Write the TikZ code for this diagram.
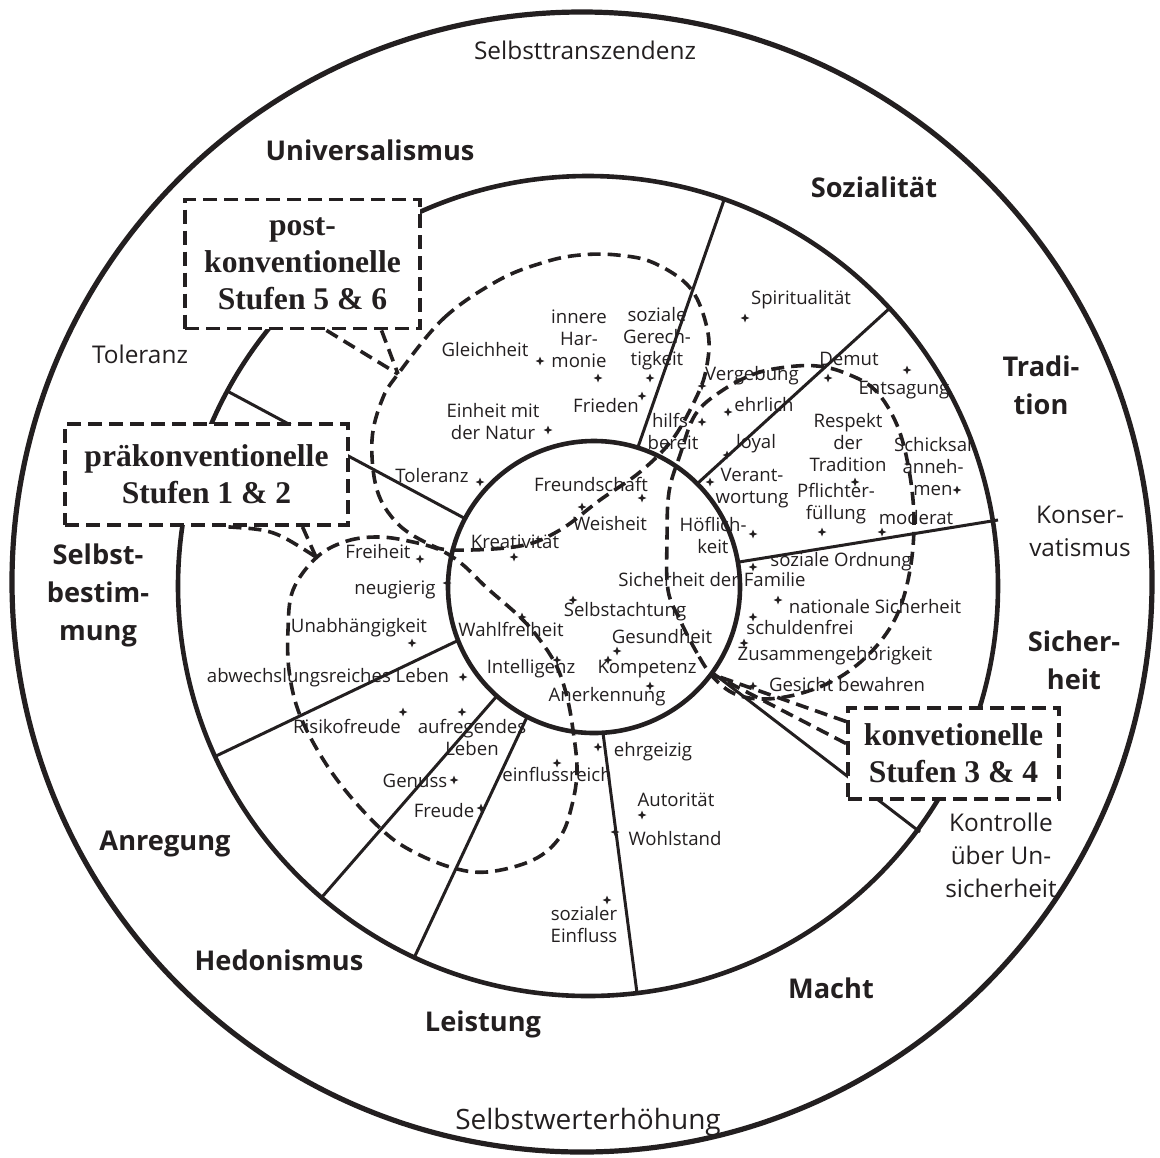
\documentclass[tikz,border=0pt]{standalone}
\usepackage{fontspec}
\setmainfont{Open Sans}
\newfontfamily\stagefont{Liberation Serif}
\usepackage{tikz}
\usetikzlibrary{calc, shapes.geometric}
\definecolor{ink}{RGB}{35, 31, 32}

\begin{document}
\begin{tikzpicture}[
    x = 0.5pt, y = -0.5pt,
    ring/.style = {draw = ink, line width = 2.3pt},
    spoke/.style = {draw = ink, line width = 1.5pt},
    zone/.style = {draw = ink, line width = 1.8pt, dash pattern = on 6.5pt off 3.5pt},
    lead/.style = {draw = ink, line width = 1.8pt, dash pattern = on 6.5pt off 3.5pt},
    stage/.style = {draw = ink, fill = white, line width = 1.9pt, dash pattern = on 7pt off 3.5pt, align = center, inner sep = 0pt, text = ink, font = \stagefont\bfseries\fontsize{15.8}{18.5}\selectfont},
    val/.style = {text = ink, align = center, inner sep = 0pt, font = \fontsize{9.3}{11}\selectfont},
    cat/.style = {text = ink, align = center, inner sep = 0pt, font = \bfseries\fontsize{13.6}{19}\selectfont},
    rimtext/.style = {text = ink, align = center, inner sep = 0pt, font = \fontsize{12.2}{16.5}\selectfont},
    stern/.style = {star, star points = 4, star point ratio = 2.6, minimum size = 4.5pt, inner sep = 0pt, fill = ink}
]
\useasboundingbox (0,0) rectangle (1160,1157);

% circles
\coordinate (rim) at (582,582);
\coordinate (mid) at (588,586);
\coordinate (core) at (594,587);
\draw[ring, line width = 2.6pt] (rim) circle [radius = 285pt];
\draw[ring] (mid) circle [radius = 205pt];
\draw[ring] (core) circle [radius = 73pt];

% spokes between the two inner circles
\foreach \xa/\ya/\xb/\yb in {638/447/724/200, 698/483/891/307, 739/562/998/520, 713/673/920/832,
    603/733/637/993, 527/717/414/958, 496/697/322/897, 459/640/216/756, 464/518/229/392}
    \draw[spoke] (\xa,\ya) -- (\xb,\yb);

% stage regions
\draw[zone] plot[smooth cycle, tension = 0.6] coordinates {(398,374) (444,318) (499,280) (545,262) (580,255) (617,255) (654,263) (691,289) (708,333) (706,370) (695,400) (672,440) (640,472) (600,500) (560,530) (520,546) (453,550) (427,543) (397,523) (377,490) (372,440) (382,400)};
\draw[zone] plot[smooth cycle, tension = 0.6] coordinates {(713,677) (697,653) (680,620) (668,590) (667,540) (669,492) (680,455) (695,415) (720,392) (754,374) (787,367) (817,366) (845,373) (875,390) (897,425) (909,470) (914,520) (910,570) (897,615) (873,650) (840,677) (802,693) (765,699) (735,694)};
\draw[zone] plot[smooth cycle, tension = 0.6] coordinates {(317,557) (347,541) (380,537) (413,542) (440,550) (462,564) (487,588) (520,617) (540,640) (557,667) (567,697) (573,730) (577,770) (572,805) (560,837) (533,860) (487,872) (450,867) (410,850) (381,829) (345,790) (318,751) (298,710) (289,670) (288,630) (293,590)};

% outer ring texts
\node[rimtext] (trans) at (585,50) {Selbsttranszendenz};
\node[rimtext, font = \fontsize{14}{17}\selectfont] (erh) at (588,1122) {Selbstwerterhöhung};
\node[rimtext] (tol) at (140,354) {Toleranz};
\node[rimtext] (kons) at (1080,531) {Konser-\\vatismus};
\node[rimtext] (kontr) at (1001,855) {Kontrolle\\über Un-\\sicherheit};

% value types
\node[cat] (univ) at (370,150) {Universalismus};
\node[cat] (soz) at (874,187) {Sozialität};
\node[cat] (trad) at (1041,385) {Tradi-\\tion};
\node[cat] (sich) at (1074,660) {Sicher-\\heit};
\node[cat] (macht) at (831,988) {Macht};
\node[cat] (leist) at (483,1024) {Leistung};
\node[cat] (hedo) at (279,960) {Hedonismus};
\node[cat] (anr) at (165,844) {Anregung};
\node[cat] (selbst) at (98,595) {Selbst-\\bestim-\\mung};

% single values
\foreach \x/\y/\t [count=\i] in {485/350/Gleichheit, 579/339/{innere\\Har-\\monie}, 657/339/{soziale\\Gerech-\\tigkeit},
    606/406/Frieden, 493/422/{Einheit mit\\der Natur}, 432/476/Toleranz, 801/300/Spiritualität,
    752/376/Vergebung, 673/431/{hilfs-\\bereit}, 764/405/ehrlich, 756/444/loyal, 752/488/{Verant-\\wortung},
    849/359/Demut, 904/390/Entsagung, 848/443/{Respekt\\der\\Tradition}, 933/467/{Schicksal\\anneh-\\men},
    836/504/{Pflichter-\\füllung}, 916/518/moderat, 591/484/Freundschaft, 610/524/Weisheit,
    713/535/{Höflich-\\keit}, 515/542/Kreativität, 712/580/Sicherheit der Familie, 841/562/soziale Ordnung,
    625/612/Selbstachtung, 875/607/nationale Sicherheit, 511/629/Wahlfreiheit, 800/627/schuldenfrei,
    662/637/Gesundheit, 835/656/Zusammengehörigkeit, 531/669/Intelligenz, 647/669/Kompetenz,
    847/685/Gesicht bewahren, 607/697/Anerkennung, 378/552/Freiheit, 395/590/neugierig,
    359/628/Unabhängigkeit, 328/678/abwechslungsreiches Leben, 347/726/Risikofreude,
    472/737/{aufregendes\\Leben}, 415/781/Genuss, 444/811/Freude, 557/774/einflussreich,
    653/752/ehrgeizig, 676/800/Autorität, 675/839/Wohlstand, 584/925/{sozialer\\Einfluss}}
    \node[val] (v\i) at (\x,\y) {\t};

\foreach \x/\y [count=\i] in {540/361, 598/378, 650/378, 642/396, 548/430, 480/482, 745/318, 702/386,
    702/422, 728/412, 727/455, 710/482, 828/378, 907/370, 855/482, 957/490, 822/532, 882/532,
    642/498, 582/507, 753/534, 514/557, 573/600, 753/567, 778/600, 753/617, 744/643, 753/686,
    617/651, 608/660, 650/686, 557/660, 522/617, 420/559, 447/583, 412/643, 463/677, 403/712,
    462/712, 454/780, 481/808, 557/763, 598/747, 642/815, 615/832, 607/900}
    \node[stern] (s\i) at (\x,\y) {};

% stage boxes
\coordinate (postTip) at (398,374);
\coordinate (praeTip) at (316,557);
\coordinate (konvTip) at (714,675);
\node[stage, minimum width = 117.5pt, minimum height = 64.5pt] (post) at (302.5,264) {post-\\konventionelle\\Stufen 5 \& 6};
\node[stage, minimum width = 141.5pt, minimum height = 50.5pt] (prae) at (206.5,474.5) {präkonventionelle\\Stufen 1 \& 2};
\node[stage, minimum width = 105.5pt, minimum height = 45.5pt] (konv) at (953.5,753.5) {konvetionelle\\Stufen 3 \& 4};

\draw[lead] ($(post.south)+(24,0)$) -- (postTip);
\draw[lead] ($(post.south)+(79,0)$) -- (postTip);
\draw[lead] ($(prae.south)+(22,0)$) .. controls +(45,3) .. (praeTip);
\draw[lead] ($(prae.south)+(96,0)$) -- (praeTip);
\draw[lead] ($(konv.west)+(0,-32)$) -- (konvTip);
\draw[lead] ($(konv.west)+(0,-10)$) -- (konvTip);

\end{tikzpicture}
\end{document}
